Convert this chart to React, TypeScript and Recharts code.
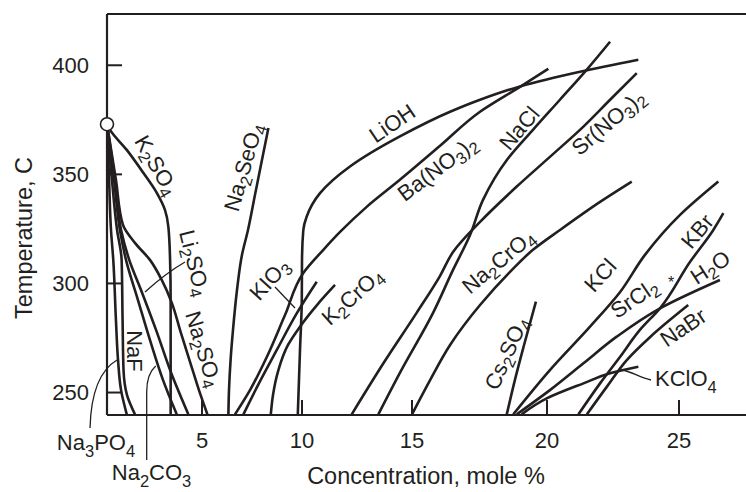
import { LineChart, Line, XAxis, YAxis, ReferenceLine, ReferenceDot } from 'recharts';

const INK = '#231f20';
const FONT = '"Liberation Sans", Arial, Helvetica, sans-serif';

// the printed x axis is not evenly spaced, so tick values and their spacing are kept apart
const X_TICKS = [0, 5, 10, 15, 20, 25];
const X_TICK_POS = [0, 95, 195, 305, 440, 572];
const X_END = 639;

const Y_TICKS = [250, 300, 350, 400];
const Y_MIN = 239.7;
const Y_MAX = 423.5;

// critical point of water
const CRIT_C = 0;
const CRIT_T = 373;

// each curve: concentration (mole %) and temperature (C), from the axis upward
const NA3PO4_C = [1.04, 0.74, 0.58, 0.47, 0.33, 0.21, 0.11, 0];
const NA3PO4_T = [240, 251.1, 265, 283.3, 310.8, 324.5, 347.5, 373];

const NAF_C = [1.47, 1.05, 0.87, 0.82, 0.77, 0.53, 0.26, 0];
const NAF_T = [240, 248.9, 260.3, 283.3, 310.8, 324.5, 347.5, 373];

const NA2CO3_C = [3.67, 2.95, 2.26, 1.63, 1.0, 0.68, 0.37, 0];
const NA2CO3_T = [240, 255.7, 274.1, 292.4, 310.8, 324.5, 347.5, 373];

const LI2SO4_C = [4.28, 3.42, 2.58, 1.79, 1.17, 0.74, 0.42, 0];
const LI2SO4_T = [240, 258, 278.7, 297, 310.8, 324.5, 347.5, 373];

const NA2SO4_C = [5.27, 4.84, 4.39, 3.89, 3.41, 2.88, 2.26, 1.47, 0.84, 0.47, 0];
const NA2SO4_T = [240, 251.1, 263.5, 277.3, 291.1, 301.6, 310.8, 318.6, 326.8, 347.5, 373];

const K2SO4_C = [3.35, 3.35, 3.32, 3.23, 3.05, 2.62, 1.91, 1.04, 0.16, 0];
const K2SO4_T = [240, 292.4, 310.8, 325.9, 333.7, 341.5, 350.7, 361.2, 370.4, 373];

const NA2SEO4_C = [6.32, 6.35, 6.43, 6.55, 6.75, 7.0, 7.3, 7.65, 7.95, 8.32];
const NA2SEO4_T = [240, 251.1, 265, 278.7, 297, 313.1, 324.5, 340.6, 354.4, 371.2];

const BANO3_C = [6.65, 7.4, 8.24, 9.15, 10.06, 10.97, 11.73, 12.94, 14.45, 16.04, 17.52, 19.0, 20.05];
const BANO3_T = [240, 251.1, 266.3, 285.5, 304.8, 315.4, 323.6, 335.1, 347.5, 363.1, 378.7, 390.1, 398.4];

const KIO3_C = [7.07, 7.8, 8.74, 9.75, 10.67];
const KIO3_T = [240, 253.4, 269.5, 286.5, 300.8];

const K2CRO4_C = [8.44, 8.55, 8.82, 9.3, 9.9, 10.68, 11.5];
const K2CRO4_T = [240, 248.9, 260.3, 271.8, 280.2, 290.1, 299.3];

const LIOH_C = [9.79, 9.9, 9.99, 10.0, 10.06, 10.21, 10.82, 12.18, 14.45, 16.41, 17.52, 19.0, 21.25, 23.46];
const LIOH_T = [240, 269.5, 292.4, 310.8, 324.5, 330.6, 341.4, 353.6, 367.4, 378.7, 384.2, 390.3, 397.0, 402.5];

const SRNO3_C = [12.26, 13.7, 15.17, 16.04, 16.52, 17.52, 18.88, 20.11, 21.38, 22.39, 23.4];
const SRNO3_T = [240, 263.4, 286.5, 303.5, 314.4, 328.2, 344.4, 358, 371.9, 384.2, 396.4];

const NACL_C = [13.47, 14.45, 15.78, 16.52, 17.15, 17.63, 18.52, 19.48, 20.49, 21.5, 22.39];
const NACL_T = [240, 259, 286.5, 306.2, 322.2, 338.3, 356.7, 370.4, 384.2, 397.9, 410.8];

const NA2CRO4_C = [15.0, 15.67, 16.41, 17.52, 18.63, 19.48, 20.49, 22.01, 23.21];
const NA2CRO4_T = [240, 255.7, 271.8, 290.1, 305.3, 315.4, 324.5, 337.4, 346.7];

const CS2SO4_C = [18.51, 18.81, 19.15, 19.59];
const CS2SO4_T = [240, 255.7, 271.8, 291.7];

const KCL_C = [18.75, 20.11, 21.63, 22.77, 23.71, 25.04, 26.49];
const KCL_T = [240, 260.3, 280.2, 296.1, 313.1, 331.4, 346.7];

const SRCL2_C = [18.88, 20.11, 21.38, 22.64, 24.28, 26.55];
const SRCL2_T = [240, 251.1, 263.4, 275.6, 288.6, 301.6];

const KCLO4_C = [19.06, 19.99, 21.38, 22.39, 23.46];
const KCLO4_T = [240, 247.3, 254.2, 258.8, 261.8];

const KBR_C = [21.19, 22.01, 22.77, 23.52, 24.28, 25.42, 26.3, 26.68];
const KBR_T = [240, 254.2, 266.4, 278.7, 288.6, 309.9, 324.5, 332.2];

const NABR_C = [21.51, 22.27, 23.03, 23.92, 25.35];
const NABR_T = [240, 252.7, 265, 275.6, 290.1];

const CURVES = [
    { name: 'Na3PO4', c: NA3PO4_C, t: NA3PO4_T },
    { name: 'NaF', c: NAF_C, t: NAF_T },
    { name: 'Na2CO3', c: NA2CO3_C, t: NA2CO3_T },
    { name: 'Li2SO4', c: LI2SO4_C, t: LI2SO4_T },
    { name: 'Na2SO4', c: NA2SO4_C, t: NA2SO4_T },
    { name: 'K2SO4', c: K2SO4_C, t: K2SO4_T },
    { name: 'Na2SeO4', c: NA2SEO4_C, t: NA2SEO4_T },
    { name: 'Ba(NO3)2', c: BANO3_C, t: BANO3_T },
    { name: 'KIO3', c: KIO3_C, t: KIO3_T },
    { name: 'K2CrO4', c: K2CRO4_C, t: K2CRO4_T },
    { name: 'LiOH', c: LIOH_C, t: LIOH_T },
    { name: 'Sr(NO3)2', c: SRNO3_C, t: SRNO3_T },
    { name: 'NaCl', c: NACL_C, t: NACL_T },
    { name: 'Na2CrO4', c: NA2CRO4_C, t: NA2CRO4_T },
    { name: 'Cs2SO4', c: CS2SO4_C, t: CS2SO4_T },
    { name: 'KCl', c: KCL_C, t: KCL_T },
    { name: 'SrCl2*H2O', c: SRCL2_C, t: SRCL2_T },
    { name: 'KClO4', c: KCLO4_C, t: KCLO4_T },
    { name: 'KBr', c: KBR_C, t: KBR_T },
    { name: 'NaBr', c: NABR_C, t: NABR_T },
];

// concentration -> position on the uneven axis
function toPos(c: number) {
    for (let i = 1; i < X_TICKS.length; i++) {
        if (c <= X_TICKS[i]) {
            const f = (c - X_TICKS[i - 1]) / (X_TICKS[i] - X_TICKS[i - 1]);
            return X_TICK_POS[i - 1] + f * (X_TICK_POS[i] - X_TICK_POS[i - 1]);
        }
    }
    const n = X_TICKS.length - 1;
    const slope = (X_TICK_POS[n] - X_TICK_POS[n - 1]) / (X_TICKS[n] - X_TICKS[n - 1]);
    return X_TICK_POS[n] + (c - X_TICKS[n]) * slope;
}

// digits in a formula are subscripts
function Chem({ f, x, y, angle = 0, anchor = 'middle', size = 22, baseline = 'central' }:
    { f: string, x: number, y: number, angle?: number, anchor?: string, size?: number, baseline?: string }) {
    const bits = f.match(/\d+|[^\d]+/g) ?? [];
    const shift = size * 0.3;
    let down = false;
    return <text x={x} y={y} transform={angle ? `rotate(${angle} ${x} ${y})` : undefined}
        textAnchor={anchor as any} dominantBaseline={baseline as any} fontSize={size} fill={INK} fontFamily={FONT}>
        {bits.map((b, i) => {
            const sub = /\d/.test(b);
            const dy = sub ? (down ? 0 : shift) : (down ? -shift : 0);
            down = sub;
            return <tspan key={i} dy={dy} fontSize={sub ? size * 0.75 : size}>{b}</tspan>;
        })}
    </text>;
}

function XTick({ x, y, payload }: any) {
    const i = X_TICK_POS.indexOf(payload.value);
    return <g>
        <line x1={x} y1={y} x2={x} y2={y - 15} stroke={INK} strokeWidth={2} />
        <text x={x} y={y + 25} textAnchor="middle" dominantBaseline="central" fontSize={22} fill={INK} fontFamily={FONT}>{X_TICKS[i]}</text>
    </g>;
}

function YTick({ x, y, payload }: any) {
    return <g>
        <line x1={x} y1={y} x2={x + 15} y2={y} stroke={INK} strokeWidth={2} />
        <text x={x - 18} y={y} textAnchor="end" dominantBaseline="central" fontSize={22} fill={INK} fontFamily={FONT}>{payload.value}</text>
    </g>;
}

export default function App() {
    return <div style={{ position: 'absolute', left: 0, top: 0, background: '#fff' }}>
        <LineChart width={746} height={492} margin={{ top: 14, right: 0, bottom: 0, left: 0 }}>
            <XAxis type="number" dataKey="x" domain={[0, X_END]} ticks={X_TICK_POS.slice(1)} interval={0}
                height={77} tickSize={0} tickMargin={0} tickLine={false} tick={<XTick />}
                axisLine={{ stroke: INK, strokeWidth: 2.2 }} />
            <YAxis type="number" domain={[Y_MIN, Y_MAX]} ticks={Y_TICKS} interval={0} allowDataOverflow
                width={107} tickSize={0} tickMargin={0} tickLine={false} tick={<YTick />}
                axisLine={{ stroke: INK, strokeWidth: 2.2 }} />
            <ReferenceLine y={Y_MAX} stroke={INK} strokeWidth={2.2} />

            {CURVES.map(cv => (
                <Line key={cv.name} name={cv.name} data={cv.c.map((c, i) => ({ x: toPos(c), y: cv.t[i] }))}
                    dataKey="y" type="monotoneY" dot={false} activeDot={false} stroke={INK} strokeWidth={2.6}
                    isAnimationActive={false} />
            ))}

            <ReferenceDot x={toPos(CRIT_C)} y={CRIT_T} r={6.5} fill="#fff" stroke={INK} strokeWidth={1.6} />

            {/* leader lines */}
            <path d="M90,428 C91,392 100,370 117,360" fill="none" stroke={INK} strokeWidth={1.3} />
            <path d="M146.7,460 L146.7,392 C146.7,378 150,371 155.7,366" fill="none" stroke={INK} strokeWidth={1.3} />
            <path d="M185,262 Q166,273 145,292" fill="none" stroke={INK} strokeWidth={1.3} />
            <path d="M275,287 L295,308" fill="none" stroke={INK} strokeWidth={1.3} />
            <path d="M651,380 C641,378 632,372 623,370" fill="none" stroke={INK} strokeWidth={1.3} />

            {/* curve labels */}
            <Chem f="K2SO4" x={157} y={165} angle={60} />
            <Chem f="Li2SO4" x={195} y={263} angle={76} />
            <Chem f="Na2SO4" x={204} y={349} angle={73} />
            <Chem f="NaF" x={135} y={351} angle={90} />
            <Chem f="Na3PO4" x={96} y={450} baseline="auto" />
            <Chem f="Na2CO3" x={151.5} y={480} baseline="auto" />
            <Chem f="Na2SeO4" x={243} y={167} angle={-74} />
            <Chem f="KIO3" x={269} y={279} angle={-48} />
            <Chem f="K2CrO4" x={352} y={296} angle={-42} />
            <Chem f="LiOH" x={392} y={123} angle={-34} />
            <Chem f="Ba(NO3)2" x={437} y={168} angle={-37} />
            <Chem f="NaCl" x={519} y={128} angle={-50} />
            <Chem f="Sr(NO3)2" x={608} y={122} angle={-40} />
            <Chem f="Na2CrO4" x={498} y={261} angle={-40} />
            <Chem f="Cs2SO4" x={506} y={353} angle={-66} />
            <Chem f="KCl" x={600} y={275} angle={-48} />
            <Chem f="SrCl2" x={634} y={298} angle={-34} />
            <text x={671} y={282} textAnchor="middle" dominantBaseline="central" fontSize={16} fill={INK} fontFamily={FONT}>*</text>
            <Chem f="H2O" x={710} y={267} angle={-33} />
            <Chem f="KBr" x={697} y={231} angle={-50} />
            <Chem f="NaBr" x={683} y={327} angle={-34} />
            <Chem f="KClO4" x={655} y={386} anchor="start" baseline="auto" />

            {/* axis titles */}
            <text x={24} y={238} transform="rotate(-90 24 238)" textAnchor="middle" dominantBaseline="central"
                fontSize={23.5} fill={INK} fontFamily={FONT}>Temperature, C</text>
            <text x={426} y={484} textAnchor="middle" fontSize={23.5} fill={INK} fontFamily={FONT}>Concentration, mole %</text>
        </LineChart>
    </div>;
}
